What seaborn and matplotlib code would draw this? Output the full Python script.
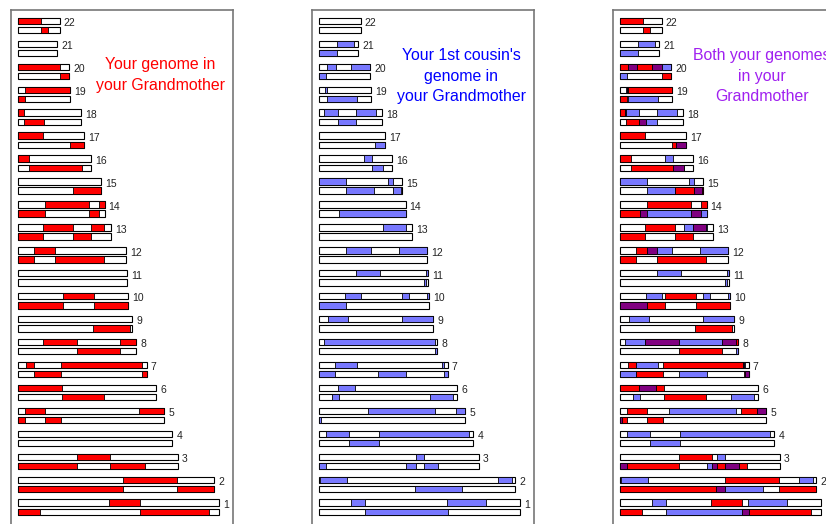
import matplotlib
matplotlib.use("Agg")
import matplotlib.pyplot as plt
import seaborn as sns
import pandas as pd

# Chromosome lengths (Mb), chromosomes 1..22
chromosomes = [str(c) for c in range(1, 23)]
lengths = [249, 243, 198, 191, 181, 171, 159, 146, 141, 136, 135,
           134, 115, 107, 103, 90, 81, 78, 64, 63, 48, 51]

# Segments (start, end in Mb) shared with the grandmother, per homolog:
# "a" is the upper bar of each pair, "b" the lower one.
yours_a = {
    "1": [(111.8, 150.7)], "2": [(130.0, 197.1)], "3": [(73.3, 113.9)], "4": [],
    "5": [(8.3, 33.1), (149.1, 181)], "6": [(0, 54.2)],
    "7": [(9.1, 19.5), (52.6, 153.2)], "8": [(30.6, 72.5), (125.5, 146)],
    "9": [], "10": [(55.5, 94.4)], "11": [], "12": [(19.9, 45.1)],
    "13": [(31.1, 67.5), (89.9, 106.8)], "14": [(33.5, 87.4), (99.8, 107)],
    "15": [], "16": [(0, 13.3)], "17": [(0, 31.1)], "18": [(0, 6.6)],
    "19": [(8.3, 64)], "20": [(0, 51)], "21": [], "22": [(0, 27.7)],
}
yours_b = {
    "1": [(0, 27.3), (150.7, 236.9)], "2": [(0, 130.0), (197.1, 243)],
    "3": [(0, 73.3), (113.9, 156.5)], "4": [],
    "5": [(0, 7.9), (33.1, 52.6)], "6": [(54.2, 106.4)],
    "7": [(19.5, 52.6), (153.2, 159)], "8": [(72.5, 125.5)],
    "9": [(92.7, 138.3)], "10": [(0, 55.5), (94.4, 136)], "11": [],
    "12": [(0, 19.9), (45.1, 106.4)], "13": [(0, 31.1), (67.5, 89.9)],
    "14": [(0, 33.5), (87.4, 99.8)], "15": [(67.5, 103)], "16": [(13.3, 79.5)],
    "17": [(63.4, 81)], "18": [(6.6, 31.5)], "19": [(0, 8.3)], "20": [(51, 63)],
    "21": [], "22": [(27.7, 36.4)],
}
cousin_a = {
    "1": [(39.3, 56.3), (158.6, 206.2)], "2": [(0.8, 34.8), (221.9, 239.3)],
    "3": [(119.3, 129.2)], "4": [(8.7, 36.4), (74.5, 185.5)],
    "5": [(60.9, 143.3), (169.8, 180.5)], "6": [(23.6, 44.7)],
    "7": [(19.9, 47.2), (152.6, 154.6)], "8": [(5.4, 143.3)],
    "9": [(11.2, 35.6), (101.9, 141)],
    "10": [(32.3, 51.3), (103.1, 111.0), (133.7, 136)],
    "11": [(46.0, 75.8), (131.7, 135)], "12": [(33.1, 63.8), (98.6, 134)],
    "13": [(79.1, 107.2)], "14": [], "15": [(0, 32.7), (85.7, 90.7)],
    "16": [(55.9, 65.8)], "17": [], "18": [(6.2, 23.6), (45.1, 70.0)],
    "19": [(6.6, 9.1)], "20": [(9.1, 20.7), (38.9, 63)], "21": [(21.5, 43.5)],
    "22": [],
}
cousin_b = {
    "1": [(56.3, 159.0)], "2": [(118.4, 176.4)],
    "3": [(0, 8.7), (107.2, 119.7), (129.2, 146.6)], "4": [(36.4, 74.5)],
    "5": [(0, 2.5)], "6": [(15.3, 24.0), (137.5, 165.2)],
    "7": [(0, 19.9), (73.3, 107.2), (154.0, 159)], "8": [(142.9, 146)],
    "9": [], "10": [(0, 32.7)], "11": [(130.0, 132.5)], "12": [], "13": [],
    "14": [(24.0, 107)], "15": [(32.7, 67.5), (90.7, 101.0)],
    "16": [(65.8, 78.7)], "17": [(69.6, 81)], "18": [(23.6, 45.1)],
    "19": [(9.1, 47.2)], "20": [(0, 8.3)], "21": [(0, 21.5)], "22": [],
}

panel_titles = ["Your genome in\nyour Grandmother",
                "Your 1st cousin's\ngenome in\nyour Grandmother",
                "Both your genomes\nin your\nGrandmother"]
title_colors = ["#FF0000", "#0000FF", "#A020F0"]

RED, BLUE, PURPLE = "#FF0000", "#7878FF", "#800080"


def split_overlap(red, blue):
    """Split two interval lists into red-only, blue-only and shared pieces."""
    cuts = sorted({p for seg in red + blue for p in seg})
    pieces = []
    for lo, hi in zip(cuts[:-1], cuts[1:]):
        mid = (lo + hi) / 2
        in_r = any(a <= mid <= b for a, b in red)
        in_b = any(a <= mid <= b for a, b in blue)
        if not (in_r or in_b):
            continue
        col = PURPLE if (in_r and in_b) else (RED if in_r else BLUE)
        if pieces and pieces[-1][2] == col and abs(pieces[-1][1] - lo) < 1e-9:
            pieces[-1] = (pieces[-1][0], hi, col)
        else:
            pieces.append((lo, hi, col))
    return pieces


sns.set_theme(style="white")
plt.rcParams["font.family"] = ["Liberation Sans", "DejaVu Sans"]

order = chromosomes[::-1]            # 22 at the top, 1 at the bottom
length_of = dict(zip(chromosomes, lengths))
bg = pd.DataFrame({
    "chrom": [c for c in order for _ in (0, 1)],
    "homolog": ["a", "b"] * len(order),
    "length": [length_of[c] for c in order for _ in (0, 1)],
})

W, H = 826, 524
fig = plt.figure(figsize=(W / 100, H / 100), dpi=100)

px_per_mb = 0.806
pitch = 22.94
ax_w, ax_h = 222, 530
ax_top = 10
lefts = [10.7, 311.7, 612.7]

bar_h = 0.4 * (1 - 0.3)
offsets = {"a": -0.2, "b": 0.2}

for k in range(3):
    ax = fig.add_axes([lefts[k] / W, (H - ax_top - ax_h) / H, ax_w / W, ax_h / H])
    sns.barplot(data=bg, y="chrom", x="length", hue="homolog", order=order,
                hue_order=["a", "b"], palette=["white", "white"], orient="h",
                width=0.8, gap=0.3, edgecolor="black", linewidth=0.8,
                errorbar=None, legend=False, ax=ax)

    for i, c in enumerate(order):
        for h, (ra, ba) in {"a": (yours_a, cousin_a), "b": (yours_b, cousin_b)}.items():
            red = ra[c] if k in (0, 2) else []
            blue = ba[c] if k in (1, 2) else []
            for lo, hi, col in split_overlap(red, blue):
                ax.barh(i + offsets[h], hi - lo, left=lo, height=bar_h,
                        color=col, edgecolor="black", linewidth=0.6, zorder=3)
        ax.text(length_of[c] + 5, i - 0.1, c, fontsize=7.5, color="#222222",
                ha="left", va="center")

    x0 = -7.7 / px_per_mb
    ax.set_xlim(x0, x0 + ax_w / px_per_mb)
    y0 = -15.5 / pitch
    ax.set_ylim(y0 + ax_h / pitch, y0)
    ax.set_xticks([])
    ax.set_yticks([])
    ax.set_xlabel("")
    ax.set_ylabel("")
    for s in ax.spines.values():
        s.set_color("#777777")
        s.set_linewidth(1.2)

    ty = 1 - (65 if k == 0 else 66) / ax_h
    ax.text(149.5 / ax_w, ty, panel_titles[k], transform=ax.transAxes,
            ha="center", va="center", multialignment="center",
            fontsize=11.4, color=title_colors[k], linespacing=1.47)

fig.savefig("out.png", dpi=100)
